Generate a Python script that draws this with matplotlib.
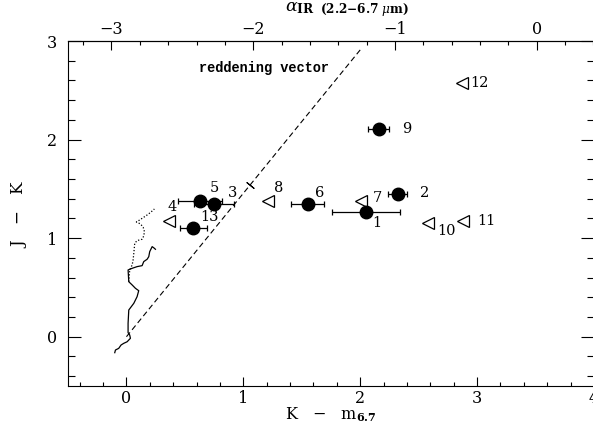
import matplotlib
import matplotlib.pyplot as plt

matplotlib.use("Agg")

plt.rcParams["font.family"] = "DejaVu Serif"
plt.rcParams["mathtext.fontset"] = "dejavuserif"

# sources with error bars (filled circles)
det_ids = ["1", "2", "3", "5", "6", "9", "13"]
det_kmag = [2.05, 2.32, 0.75, 0.63, 1.55, 2.16, 0.57]
det_jk = [1.27, 1.45, 1.35, 1.38, 1.35, 2.11, 1.10]
det_err = [0.29, 0.08, 0.17, 0.19, 0.14, 0.09, 0.115]

# upper limits in K - m6.7 (open triangles)
lim_ids = ["4", "7", "8", "10", "11", "12"]
lim_kmag = [0.36, 2.01, 1.21, 2.58, 2.88, 2.87]
lim_jk = [1.17, 1.38, 1.38, 1.15, 1.17, 2.57]

# intrinsic colour loci near the origin
solid_k = [-0.100, -0.094, -0.066, -0.046, -0.023, 0.006, 0.034, 0.028, 0.014,
           0.014, 0.020, 0.063, 0.091, 0.105, 0.077, 0.049, 0.020, 0.014, 0.049,
           0.091, 0.134, 0.148, 0.177, 0.191, 0.199, 0.220, 0.239, 0.248]
solid_jk = [-0.162, -0.135, -0.118, -0.084, -0.067, -0.051, -0.016, 0.017, 0.041,
            0.136, 0.271, 0.339, 0.406, 0.467, 0.491, 0.525, 0.558, 0.677, 0.694,
            0.711, 0.721, 0.762, 0.786, 0.812, 0.863, 0.914, 0.897, 0.887]
dot_k = [0.020, 0.028, 0.049, 0.057, 0.063, 0.071, 0.091, 0.134, 0.148, 0.154,
         0.143, 0.120, 0.085, 0.114, 0.148, 0.182, 0.211, 0.239]
dot_jk = [0.558, 0.677, 0.728, 0.779, 0.847, 0.948, 0.975, 0.989, 1.022, 1.066,
          1.111, 1.144, 1.164, 1.185, 1.212, 1.239, 1.266, 1.296]

# reddening vector: start, end and the marked point on it
redv_k = [0.0, 2.0]
redv_jk = [0.0, 2.91]
redv_mark = (1.06, 1.54)

# alpha_IR = (K - m6.7 - A0) / SLOPE
ALPHA_ZERO = 3.51
ALPHA_SLOPE = 1.2127

# label offsets in pixels
label_off = {
    "1": (11, -11), "2": (27, 1), "3": (18, 11), "4": (4, 14), "5": (14, 13),
    "6": (12, 11), "7": (16, 3), "8": (11, 13), "9": (28, 0), "10": (18, -8),
    "11": (23, 0), "12": (18, 0), "13": (16, 11),
}

fig = plt.figure(figsize=(5.93, 4.26), dpi=100)
ax = fig.add_axes([68 / 593, 40 / 426, 526 / 593, 345 / 426])

ax.plot(solid_k, solid_jk, color="black", lw=0.9)
ax.plot(dot_k, dot_jk, color="black", lw=0.9, ls=(0, (1, 1.5)))

ax.plot(redv_k, redv_jk, color="black", lw=0.8, ls=(0, (5, 3)))
ax.plot([redv_mark[0]], [redv_mark[1]], marker=(2, 2, 50.8), ms=7,
        color="black", mew=0.8)
ax.text(1.18, 2.73, "reddening vector", family="Liberation Mono",
        fontweight="bold", fontsize=9.8, ha="center", va="center")

ax.errorbar(det_kmag, det_jk, xerr=det_err, fmt="o", color="black", ms=9,
            ecolor="black", elinewidth=0.9, capsize=2.5, capthick=0.9, zorder=3)
ax.plot(lim_kmag, lim_jk, ls="none", marker="<", ms=9, mfc="white",
        mec="black", mew=0.9, zorder=3)

for ids, xs, ys in [(det_ids, det_kmag, det_jk), (lim_ids, lim_kmag, lim_jk)]:
    for name, x, y in zip(ids, xs, ys):
        ax.annotate(name, (x, y), xytext=label_off[name],
                    textcoords="offset pixels", ha="center", va="center",
                    fontsize=10.5)

ax.set_xlim(-0.5, 4)
ax.set_ylim(-0.5, 3)
ax.set_xticks([0, 1, 2, 3, 4])
ax.set_xticks([x / 10 for x in range(-4, 40, 2)], minor=True)
ax.set_yticks([0, 1, 2, 3])
ax.set_yticks([y / 10 for y in range(-4, 30, 2)], minor=True)
ax.tick_params(axis="both", which="both", direction="in", width=0.8,
               labelsize=11.5, top=False, right=True)
ax.tick_params(axis="x", which="major", length=6.5, pad=3)
ax.tick_params(axis="x", which="minor", length=3)
ax.tick_params(axis="y", which="major", length=9.4, pad=8)
ax.tick_params(axis="y", which="minor", length=4.7)
for sp in ax.spines.values():
    sp.set_linewidth(0.8)

sec = ax.secondary_xaxis(
    "top",
    functions=(lambda k: (k - ALPHA_ZERO) / ALPHA_SLOPE,
               lambda a: a * ALPHA_SLOPE + ALPHA_ZERO))
sec.set_xticks([-3, -2, -1, 0])
sec.set_xticks([a / 10 for a in range(-32, 5, 2)], minor=True)
sec.tick_params(which="both", direction="in", width=0.8, labelsize=11.5)
sec.tick_params(which="major", length=6.3, pad=2)
sec.tick_params(which="minor", length=3)
sec.spines["top"].set_linewidth(0.8)

ax.set_xlabel(r"K   $-$   m$_{\mathbf{6.7}}$", fontsize=11.5)
ax.xaxis.set_label_coords(0.5, -0.055)
ax.set_ylabel(r"J   $-$   K", fontsize=12)
ax.yaxis.set_label_coords(-0.075, 0.5)

fig.text(285 / 593, 1 - 10 / 426,
         r"$\alpha_{\mathbf{IR}\ \ \mathbf{(2.2{-}6.7}\ \mu\mathbf{m)}}$",
         fontsize=12.5, ha="left", va="center")

fig.savefig("out.png", dpi=100)
